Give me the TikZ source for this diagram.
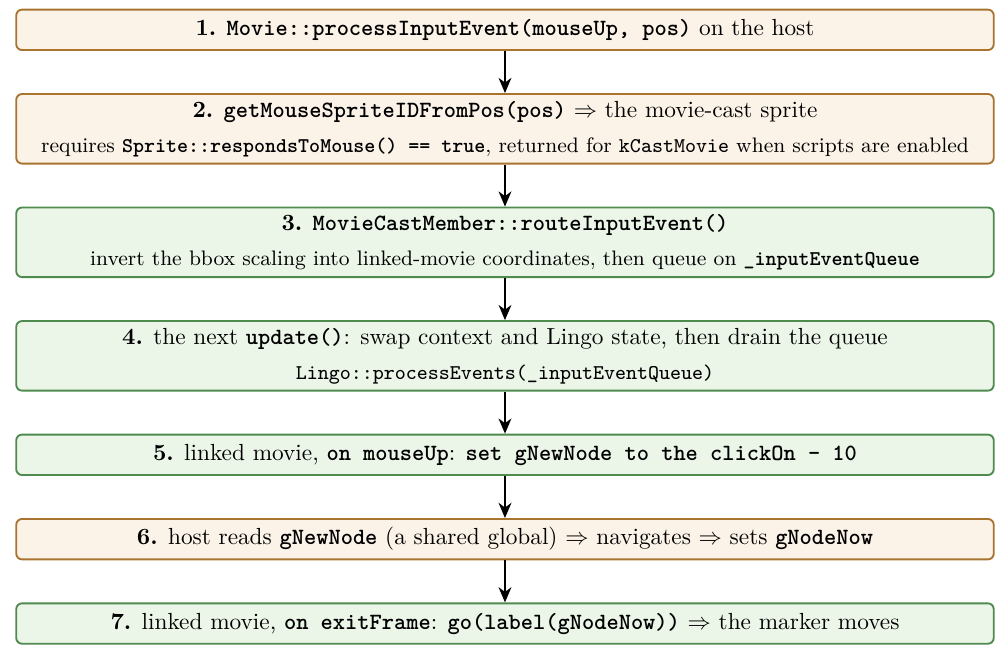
\documentclass[tikz,border=0pt]{standalone}
\usepackage{amsmath}
\usepackage{amssymb}
\usepackage{tikz}
\usetikzlibrary{arrows.meta,positioning}

\definecolor{hostfill}{HTML}{FBF2E8}
\definecolor{hostdraw}{HTML}{A8742F}
\definecolor{linkfill}{HTML}{EBF5E8}
\definecolor{linkdraw}{HTML}{4F8A4F}

\newcommand{\code}[1]{\texttt{\textbf{#1}}}

\begin{document}
\begin{tikzpicture}[->,>={Stealth[length=6.5pt,width=5.5pt,inset=2pt]},node distance=0.635cm,thick,
  step node/.style={rectangle,rounded corners=2.5pt,minimum width=14.75cm,
    minimum height=0.61cm,align=center,inner sep=2pt},
  host node/.style={step node,fill=hostfill,draw=hostdraw},
  link node/.style={step node,fill=linkfill,draw=linkdraw},
  two lines/.style={minimum height=1.05cm}]

  \useasboundingbox (-7.62,0.45) rectangle (7.59,-9.47);

  \node[host node] (1) at (0,0) {\textbf{1.} \code{Movie::processInputEvent(mouseUp, pos)} on the host};
  \node[host node,two lines] (2) [below=of 1] {\textbf{2.} \code{getMouseSpriteIDFromPos(pos)} $\Rightarrow$ the movie-cast sprite\\[3pt]
    {\small requires \code{Sprite::respondsToMouse() == true}, returned for \texttt{kCastMovie} when scripts are enabled}};
  \node[link node,two lines] (3) [below=of 2] {\textbf{3.} \code{MovieCastMember::routeInputEvent()}\\[3pt]
    {\small invert the bbox scaling into linked-movie coordinates, then queue on \code{\_inputEventQueue}}};
  \node[link node,two lines] (4) [below=of 3] {\textbf{4.} the next \code{update()}: swap context and Lingo state, then drain the queue\\[3pt]
    {\small\texttt{Lingo::processEvents(\_inputEventQueue)}}};
  \node[link node] (5) [below=of 4] {\textbf{5.} linked movie, \code{on mouseUp}: \code{set gNewNode to the clickOn - 10}};
  \node[host node] (6) [below=of 5] {\textbf{6.} host reads \code{gNewNode} (a shared global) $\Rightarrow$ navigates $\Rightarrow$ sets \code{gNodeNow}};
  \node[link node] (7) [below=of 6] {\textbf{7.} linked movie, \code{on exitFrame}: \code{go(label(gNodeNow))} $\Rightarrow$ the marker moves};

  \path (1) edge (2)
        (2) edge (3)
        (3) edge (4)
        (4) edge (5)
        (5) edge (6)
        (6) edge (7);
\end{tikzpicture}
\end{document}
